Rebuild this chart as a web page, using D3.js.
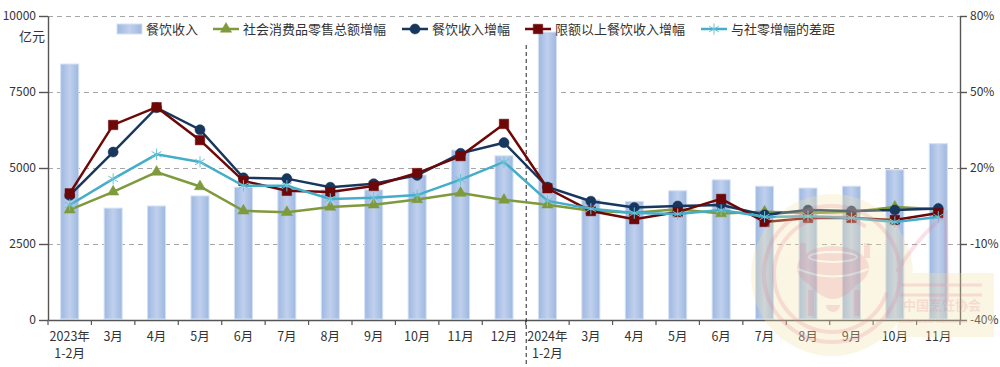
<!DOCTYPE html>
<html>
<head>
<meta charset="utf-8">
<script src="https://cdn.jsdelivr.net/npm/d3@7"></script>
<style>
  html, body { margin: 0; padding: 0; background: #fff; }
  text { font-family: "Noto Sans CJK SC", sans-serif; fill: #333; }
</style>
</head>
<body>
<div id="chart"></div>
<script>
const months = ["2023年|1-2月", "3月", "4月", "5月", "6月", "7月", "8月", "9月", "10月", "11月", "12月",
  "2024年|1-2月", "3月", "4月", "5月", "6月", "7月", "8月", "9月", "10月", "11月"];
const revenue = [8420, 3680, 3750, 4080, 4370, 4370, 4280, 4280, 4770, 5590, 5400,
  9470, 3950, 3900, 4250, 4610, 4400, 4340, 4400, 4940, 5800];
const retailGrowth = [3.5, 10.6, 18.4, 12.7, 3.1, 2.5, 4.6, 5.5, 7.6, 10.1, 7.4,
  5.5, 3.1, 2.3, 3.7, 2.0, 2.7, 2.2, 2.6, 4.6, 3.7];
const cateringGrowth = [9.2, 26.3, 43.8, 35.1, 16.1, 15.8, 12.4, 13.8, 17.1, 25.8, 30.0,
  12.5, 6.9, 4.4, 5.0, 5.4, 1.5, 3.4, 3.0, 3.4, 4.0];
const aboveLimitGrowth = [10.0, 37.0, 44.0, 31.0, 14.9, 11.0, 10.5, 12.9, 18.0, 24.7, 37.4,
  12.0, 3.0, -0.2, 2.6, 7.8, -1.3, 0.3, 0.3, -0.5, 2.2];
const gapGrowth = [5.4, 15.7, 25.4, 22.4, 13.0, 13.0, 7.8, 8.3, 9.3, 15.4, 22.4,
  7.0, 3.9, 2.2, 1.8, 3.4, 0.7, 1.0, 0.3, -1.3, 0.7];
const leftTicks = [0, 2500, 5000, 7500, 10000];
const rightTicks = [-40, -10, 20, 50, 80];

const width = 1000, height = 367;
const margin = { top: 16, right: 40, bottom: 47, left: 48 };

const svg = d3.select("#chart").append("svg")
  .attr("width", width)
  .attr("height", height)
  .style("display", "block");

//Scales
const xScale = d3.scaleBand()
  .domain(d3.range(months.length))
  .range([margin.left, width - margin.right]);
const yLeft = d3.scaleLinear().domain([0, 10000]).range([height - margin.bottom, margin.top]);
const yRight = d3.scaleLinear().domain([-40, 80]).range([height - margin.bottom, margin.top]);
const xMid = i => xScale(i) + xScale.bandwidth() / 2;

//Bar gradient
const grad = svg.append("defs").append("linearGradient").attr("id", "barFill");
grad.append("stop").attr("offset", "0%").attr("stop-color", "#9db8e1");
grad.append("stop").attr("offset", "50%").attr("stop-color", "#c0d0ed");
grad.append("stop").attr("offset", "100%").attr("stop-color", "#9db8e1");

//Grid
svg.append("g")
  .selectAll("line")
  .data(leftTicks.slice(1))
  .join("line")
  .attr("x1", margin.left)
  .attr("x2", width - margin.right)
  .attr("y1", d => yLeft(d) + 0.5)
  .attr("y2", d => yLeft(d) + 0.5)
  .attr("stroke", "#a6a6a6")
  .attr("stroke-width", 1)
  .attr("stroke-dasharray", "5 4");

//Bars
const barWidth = 18;
svg.append("g")
  .selectAll("rect")
  .data(revenue)
  .join("rect")
  .attr("x", (_, i) => xMid(i) - barWidth / 2)
  .attr("y", d => yLeft(d))
  .attr("width", barWidth)
  .attr("height", d => yLeft(0) - yLeft(d) - 1)
  .attr("fill", "url(#barFill)")
  .attr("stroke", "#d5e0f3")
  .attr("stroke-width", 1);

//Axes
function styleAxis(g) {
  g.selectAll("path, line").attr("stroke", "#555").attr("stroke-width", 1.4);
  g.selectAll("text").style("font-size", "12px").attr("fill", "#333");
}
svg.append("g")
  .attr("transform", `translate(${margin.left},0)`)
  .call(d3.axisLeft(yLeft).tickValues(leftTicks).tickFormat(d => d).tickSize(9).tickSizeOuter(0))
  .call(styleAxis);
svg.append("g")
  .attr("transform", `translate(${width - margin.right},0)`)
  .call(d3.axisRight(yRight).tickValues(rightTicks).tickFormat(d => d + "%").tickSize(7).tickSizeOuter(0))
  .call(styleAxis);

const xAxis = svg.append("g")
  .attr("transform", `translate(0,${height - margin.bottom})`)
  .call(d3.axisBottom(xScale).tickValues([]).tickSizeOuter(0))
  .call(styleAxis);
xAxis.selectAll("line.edge")
  .data(d3.range(months.length + 1))
  .join("line")
  .attr("x1", i => margin.left + i * xScale.step())
  .attr("x2", i => margin.left + i * xScale.step())
  .attr("y1", 0)
  .attr("y2", 5)
  .attr("stroke", "#555")
  .attr("stroke-width", 1.2);

const monthLabels = svg.append("g").selectAll("text")
  .data(months)
  .join("text")
  .attr("y", height - margin.bottom + 21)
  .attr("text-anchor", "middle")
  .style("font-size", "12.5px");
monthLabels.selectAll("tspan")
  .data((d, i) => d.split("|").map(t => ({ t, i })))
  .join("tspan")
  .attr("x", d => xMid(d.i))
  .attr("dy", (_, j) => j ? 17 : 0)
  .text(d => d.t);

svg.append("text")
  .attr("x", 19)
  .attr("y", 41)
  .style("font-size", "13px")
  .text("亿元");

//Year separator
svg.append("line")
  .attr("x1", margin.left + 11 * xScale.step() + 0.5)
  .attr("x2", margin.left + 11 * xScale.step() + 0.5)
  .attr("y1", 45)
  .attr("y2", 365)
  .attr("stroke", "#222")
  .attr("stroke-width", 1)
  .attr("stroke-dasharray", "4 3");

//Lines
const series = [
  { name: "社会消费品零售总额增幅", values: retailGrowth, color: "#7f9a3c", symbol: d3.symbolTriangle, size: 55 },
  { name: "餐饮收入增幅", values: cateringGrowth, color: "#17375e", symbol: d3.symbolCircle, size: 80 },
  { name: "限额以上餐饮收入增幅", values: aboveLimitGrowth, color: "#6e0808", symbol: d3.symbolSquare, size: 90 },
  { name: "与社零增幅的差距", values: gapGrowth, color: "#44adc8", symbol: d3.symbolAsterisk, size: 90 }
];
const lineGen = d3.line().x((_, i) => xMid(i)).y(d => yRight(d));

function drawMarker(g, s) {
  const star = s.symbol === d3.symbolAsterisk;
  g.attr("d", d3.symbol().type(s.symbol).size(s.size)())
    .attr("fill", star ? "none" : s.color)
    .attr("stroke", star ? "#6cc3da" : s.color)
    .attr("stroke-width", star ? 1 : 0.5);
}

series.forEach(s => {
  const g = svg.append("g");
  g.append("path")
    .attr("d", lineGen(s.values))
    .attr("fill", "none")
    .attr("stroke", s.color)
    .attr("stroke-width", 2.5);
  g.selectAll("path.mark")
    .data(s.values)
    .join("path")
    .attr("class", "mark")
    .attr("transform", (d, i) => `translate(${xMid(i)},${yRight(d)})`)
    .call(drawMarker, s);
});

//Legend
const legendItems = [
  { x: 117, name: "餐饮收入" },
  { x: 213, name: series[0].name, s: series[0] },
  { x: 402, name: series[1].name, s: series[1] },
  { x: 525, name: series[2].name, s: series[2] },
  { x: 701, name: series[3].name, s: series[3] }
];
const legend = svg.append("g");
legendItems.forEach(it => {
  const g = legend.append("g").attr("transform", `translate(${it.x},29)`);
  if (it.s) {
    g.append("line").attr("x1", 0).attr("x2", 26)
      .attr("stroke", it.s.color).attr("stroke-width", 2.5);
    g.append("path").attr("transform", "translate(13,0)").call(drawMarker, it.s);
  } else {
    g.append("rect").attr("y", -5).attr("width", 25).attr("height", 10)
      .attr("fill", "url(#barFill)").attr("stroke", "#d5e0f3");
  }
  g.append("text")
    .attr("x", it.s ? 30 : 29)
    .attr("y", 5)
    .style("font-size", "13px")
    .text(it.name);
});

//Watermark: cream backing, then the pink emblem
const cream = svg.append("g").attr("opacity", 0.3).attr("fill", "#f5e3a6");
cream.append("circle").attr("cx", 832).attr("cy", 275).attr("r", 81);
cream.append("rect").attr("x", 897).attr("y", 273).attr("width", 97).attr("height", 64);

const emblem = svg.append("g").attr("opacity", 0.22).attr("pointer-events", "none");
const pink = "#e57f95";
const arc = d3.arc();
emblem.append("circle").attr("cx", 832).attr("cy", 274).attr("r", 68)
  .attr("fill", "none").attr("stroke", pink).attr("stroke-width", 4);
emblem.append("path")
  .attr("transform", "translate(832,274)")
  .attr("d", arc({ innerRadius: 56, outerRadius: 60, startAngle: 1.9, endAngle: 6.9 }))
  .attr("fill", pink);
emblem.append("path")
  .attr("d", "M897,272 Q915,240 946,214 L947,302")
  .attr("fill", "none").attr("stroke", pink).attr("stroke-width", 4);
emblem.append("path")
  .attr("d", "M803,243 V258 M867,243 V258 M811,290 V316 M857,290 V316")
  .attr("fill", "none").attr("stroke", pink).attr("stroke-width", 6);
emblem.append("ellipse").attr("cx", 833).attr("cy", 268).attr("rx", 36).attr("ry", 22)
  .attr("fill", pink);
emblem.append("path")
  .attr("d", "M806,280 Q833,318 860,280 Z")
  .attr("fill", pink);
emblem.append("ellipse").attr("cx", 833).attr("cy", 257).attr("rx", 24).attr("ry", 5)
  .attr("fill", "none").attr("stroke", "#fff").attr("stroke-width", 2);
emblem.append("path")
  .attr("d", "M798,269 Q833,284 868,269")
  .attr("fill", "none").attr("stroke", "#fff").attr("stroke-width", 2);
emblem.append("path")
  .attr("transform", "translate(833,305)")
  .attr("d", arc({ innerRadius: 0, outerRadius: 7, startAngle: Math.PI / 2, endAngle: Math.PI * 1.5 }))
  .attr("fill", pink);
emblem.append("path")
  .attr("d", "M900,285 H982 M900,295 H982")
  .attr("fill", "none").attr("stroke", pink).attr("stroke-width", 3);
emblem.append("text").attr("x", 903).attr("y", 310)
  .style("font-size", "13px").style("font-weight", "bold").style("fill", pink)
  .text("中国烹饪协会");
emblem.append("text").attr("x", 899).attr("y", 323)
  .style("font-size", "4.8px").style("font-weight", "bold").style("fill", pink)
  .text("CHINA CUISINE ASSOCIATION");
</script>
</body>
</html>
